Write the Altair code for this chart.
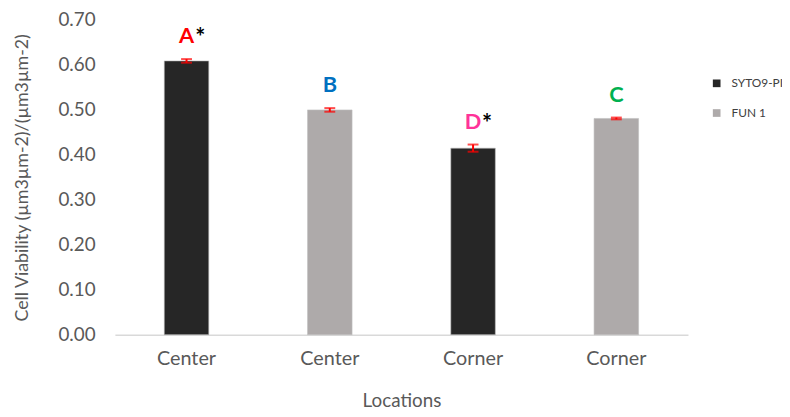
import altair as alt
import pandas as pd

positions = ["c1", "c2", "k1", "k2"]
tick_labels = ["Center", "Center", "Corner", "Corner"]
series = ["SYTO9-PI", "FUN 1", "SYTO9-PI", "FUN 1"]
values = [0.609, 0.500, 0.415, 0.481]
errors = [0.004, 0.004, 0.008, 0.002]
letters = ["A", "B", "D", "C"]
letter_colors = ["#FF0000", "#0070C0", "#FF3399", "#00B050"]
stars = ["*", "", "*", ""]

series_domain = ["SYTO9-PI", "FUN 1"]
series_colors = ["#262626", "#AEAAAA"]

df = pd.DataFrame({
    "pos": positions,
    "series": series,
    "value": values,
    "lower": [v - e for v, e in zip(values, errors)],
    "upper": [v + e for v, e in zip(values, errors)],
    "letter": letters,
    "lcolor": letter_colors,
    "star": stars,
})

label_expr = " : ".join(
    f"datum.value == '{p}' ? '{t}'" for p, t in zip(positions, tick_labels)
) + " : ''"

FONT = "Lato"

x = alt.X(
    "pos:N",
    sort=positions,
    scale=alt.Scale(paddingInner=0, paddingOuter=0),
    axis=alt.Axis(
        title="Locations",
        labelExpr=label_expr,
        labelAngle=0,
        labelFontSize=20,
        labelColor="#595959",
        labelPadding=14,
        titleFontSize=19,
        titleColor="#595959",
        titleFontWeight="normal",
        titlePadding=24,
        domainColor="#D9D9D9",
        domainWidth=1.5,
        ticks=False,
        grid=False,
    ),
)

y_scale = alt.Scale(domain=[0, 0.7], nice=False)

bars = alt.Chart(df).mark_bar(size=45, stroke="#BFBFBF", strokeWidth=0.6).encode(
    x=x,
    y=alt.Y(
        "value:Q",
        scale=y_scale,
        axis=alt.Axis(
            title="Cell Viability (µm3µm-2)/(µm3µm-2)",
            values=[0, 0.1, 0.2, 0.3, 0.4, 0.5, 0.6, 0.7],
            format=".2f",
            labelFontSize=19,
            labelColor="#595959",
            labelPadding=20,
            titleFontSize=18,
            titleColor="#595959",
            titleFontWeight="normal",
            titlePadding=27,
            domain=False,
            ticks=False,
            grid=False,
        ),
    ),
    color=alt.Color(
        "series:N",
        scale=alt.Scale(domain=series_domain, range=series_colors),
        legend=alt.Legend(
            title=None,
            orient="none",
            legendX=602,
            legendY=58,
            symbolType="square",
            symbolSize=60,
            symbolStrokeWidth=0,
            labelFontSize=12,
            labelColor="#404040",
            labelFont=FONT,
            rowPadding=18,
            labelOffset=9,
        ),
    ),
)

err_rule = alt.Chart(df).mark_rule(color="#FF0000", strokeWidth=2).encode(
    x=alt.X("pos:N", sort=positions),
    y=alt.Y("lower:Q", scale=y_scale),
    y2="upper:Q",
)
cap_lo = alt.Chart(df).mark_tick(color="#FF0000", thickness=2, size=11, orient="horizontal").encode(
    x=alt.X("pos:N", sort=positions),
    y=alt.Y("lower:Q", scale=y_scale),
)
cap_hi = alt.Chart(df).mark_tick(color="#FF0000", thickness=2, size=11, orient="horizontal").encode(
    x=alt.X("pos:N", sort=positions),
    y=alt.Y("upper:Q", scale=y_scale),
)

letter_text = alt.Chart(df).mark_text(
    font=FONT, fontSize=22, fontWeight="bold", baseline="bottom", dy=-11
).encode(
    x=alt.X("pos:N", sort=positions),
    y=alt.Y("upper:Q", scale=y_scale),
    text="letter:N",
    color=alt.Color("lcolor:N", scale=None),
)

star_text = alt.Chart(df).mark_text(
    font=FONT, fontSize=24, fontWeight="bold", baseline="bottom", dy=-8, dx=14, color="#000000"
).encode(
    x=alt.X("pos:N", sort=positions),
    y=alt.Y("upper:Q", scale=y_scale),
    text="star:N",
)

chart = alt.layer(bars, err_rule, cap_lo, cap_hi, letter_text, star_text).properties(
    width=579,
    height=318,
    autosize=alt.AutoSizeParams(type="none"),
    padding={"left": 108, "top": 10, "right": 95, "bottom": 80},
).configure(font=FONT).configure_view(strokeWidth=0, stroke="transparent")

chart.save("out.html", embed_options={"renderer": "svg", "actions": False})
